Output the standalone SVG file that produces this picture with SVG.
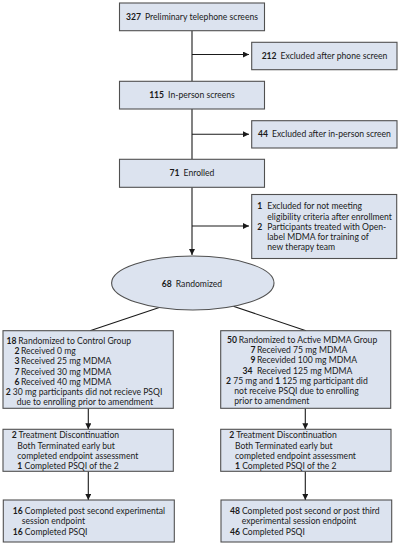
<svg xmlns="http://www.w3.org/2000/svg" width="400" height="545" viewBox="0 0 400 545">
<style>
.box{fill:#dce3ef;stroke:#505050;stroke-width:1.1}
.t{font-family:Lato,"Liberation Sans",sans-serif;font-size:8.6px;fill:#1a1a1a}
.c{text-anchor:middle}
.b{font-weight:bold}
.ln{stroke:#1a1a1a;stroke-width:1.1;fill:none}
</style>
<defs>
<marker id="ah" markerWidth="6" markerHeight="6" refX="6" refY="3" orient="auto" markerUnits="userSpaceOnUse">
<path d="M0,0 L6,3 L0,6 z" fill="#1a1a1a"/>
</marker>
</defs>
<g id="connectors">
<line class="ln" x1="192" y1="30.7" x2="192" y2="81.3"/>
<line class="ln" x1="192" y1="109" x2="192" y2="159.3"/>
<line class="ln" x1="192" y1="187.3" x2="192" y2="255" marker-end="url(#ah)"/>
<line class="ln" x1="192" y1="54.5" x2="249" y2="54.5" marker-end="url(#ah)"/>
<line class="ln" x1="192" y1="134.2" x2="249" y2="134.2" marker-end="url(#ah)"/>
<line class="ln" x1="192" y1="226" x2="249" y2="226" marker-end="url(#ah)"/>
<line class="ln" x1="160" y1="307.3" x2="90" y2="330.7"/>
<line class="ln" x1="233.3" y1="306.3" x2="306" y2="330.7"/>
<line class="ln" x1="88.3" y1="408.3" x2="88.3" y2="429.3" marker-end="url(#ah)"/>
<line class="ln" x1="88.3" y1="471.3" x2="88.3" y2="500" marker-end="url(#ah)"/>
<line class="ln" x1="305.3" y1="408.3" x2="305.3" y2="429.3" marker-end="url(#ah)"/>
<line class="ln" x1="305.3" y1="471.3" x2="305.3" y2="500" marker-end="url(#ah)"/>
</g>
<g id="n327">
<rect class="box" x="119.5" y="3" width="145" height="27.7"/>
<text class="t c" x="192" y="20"><tspan class="b">327</tspan><tspan dx="4">Preliminary telephone screens</tspan></text>
</g>
<g id="n212">
<rect class="box" x="251.7" y="42.3" width="145.3" height="27.4"/>
<text class="t c" x="324.5" y="59"><tspan class="b">212</tspan><tspan dx="4">Excluded after phone screen</tspan></text>
</g>
<g id="n115">
<rect class="box" x="119.5" y="81.3" width="145" height="27.7"/>
<text class="t c" x="192" y="98"><tspan class="b">115</tspan><tspan dx="4">In-person screens</tspan></text>
</g>
<g id="n44">
<rect class="box" x="251.7" y="120.7" width="145.3" height="27.3"/>
<text class="t c" x="324.5" y="137.3"><tspan class="b">44</tspan><tspan dx="4">Excluded after in-person screen</tspan></text>
</g>
<g id="n71">
<rect class="box" x="119.5" y="159.3" width="145" height="28"/>
<text class="t c" x="192" y="176.3"><tspan class="b">71</tspan><tspan dx="4">Enrolled</tspan></text>
</g>
<g id="nexcl">
<rect class="box" x="251.7" y="194.5" width="145" height="64"/>
<text class="t" x="257.3" y="209"><tspan class="b">1</tspan></text>
<text class="t" x="267.3" y="209">Excluded for not meeting</text>
<text class="t" x="267.3" y="219.5">eligibility criteria after enrollment</text>
<text class="t" x="257.3" y="229.8"><tspan class="b">2</tspan></text>
<text class="t" x="267.3" y="229.8">Participants treated with Open-</text>
<text class="t" x="267.3" y="240.1">label MDMA for training of</text>
<text class="t" x="267.3" y="250.3">new therapy team</text>
</g>
<g id="n68">
<ellipse class="box" cx="192.8" cy="283" rx="81.2" ry="27"/>
<text class="t c" x="192" y="287"><tspan class="b">68</tspan><tspan dx="4">Randomized</tspan></text>
</g>
<g id="nctrl">
<rect class="box" x="3" y="330.7" width="170.3" height="77.6"/>
<text class="t" x="6.5" y="343.6"><tspan class="b">18</tspan></text>
<text class="t" x="18.3" y="343.6">Randomized to Control Group</text>
<text class="t" x="14.5" y="353.9"><tspan class="b">2</tspan></text>
<text class="t" x="20.9" y="353.9">Received 0 mg</text>
<text class="t" x="14.5" y="364.2"><tspan class="b">3</tspan></text>
<text class="t" x="20.9" y="364.2">Received 25 mg MDMA</text>
<text class="t" x="14.5" y="374.5"><tspan class="b">7</tspan></text>
<text class="t" x="20.9" y="374.5">Received 30 mg MDMA</text>
<text class="t" x="14.5" y="384.8"><tspan class="b">6</tspan></text>
<text class="t" x="20.9" y="384.8">Received 40 mg MDMA</text>
<text class="t" x="5.7" y="395"><tspan class="b">2</tspan> 30 mg participants did not recieve PSQI</text>
<text class="t" x="16.7" y="405.2">due to enrolling prior to amendment</text>
</g>
<g id="nactive">
<rect class="box" x="220.7" y="330.7" width="170" height="77.6"/>
<text class="t" x="227" y="343"><tspan class="b">50</tspan></text>
<text class="t" x="238.8" y="343">Randomized to Active MDMA Group</text>
<text class="t" x="250.5" y="353.2"><tspan class="b">7</tspan></text>
<text class="t" x="256.9" y="353.2">Received 75 mg MDMA</text>
<text class="t" x="250.5" y="363.4"><tspan class="b">9</tspan></text>
<text class="t" x="256.9" y="363.4">Recevided 100 mg MDMA</text>
<text class="t" x="242.5" y="373.7"><tspan class="b">34</tspan></text>
<text class="t" x="256.9" y="373.7">Received 125 mg MDMA</text>
<text class="t" x="226" y="384"><tspan class="b">2</tspan> 75 mg and <tspan class="b">1</tspan> 125 mg participant did</text>
<text class="t" x="234.3" y="394.2">not receive PSQI due to enrolling</text>
<text class="t" x="234.3" y="404.3">prior to amendment</text>
</g>
<g id="nctrl2">
<rect class="box" x="3" y="429.3" width="170.3" height="42"/>
<text class="t" x="11.7" y="438.2"><tspan class="b">2</tspan> Treatment Discontinuation</text>
<text class="t" x="17.3" y="448.7">Both Terminated early but</text>
<text class="t" x="17.3" y="459">completed endpoint assessment</text>
<text class="t" x="17.3" y="469.3"><tspan class="b">1</tspan> Completed PSQI of the 2</text>
</g>
<g id="nactive2">
<rect class="box" x="220.7" y="429.3" width="170.3" height="42"/>
<text class="t" x="229.3" y="438.2"><tspan class="b">2</tspan> Treatment Discontinuation</text>
<text class="t" x="235" y="448.7">Both Terminated early but</text>
<text class="t" x="235" y="459">completed endpoint assessment</text>
<text class="t" x="235" y="469.3"><tspan class="b">1</tspan> Completed PSQI of the 2</text>
</g>
<g id="nctrl3">
<rect class="box" x="3.3" y="500" width="171" height="42"/>
<text class="t" x="12.7" y="513.7"><tspan class="b">16</tspan> Completed post second experimental</text>
<text class="t" x="21.7" y="524">session endpoint</text>
<text class="t" x="12.7" y="534.5"><tspan class="b">16</tspan> Completed PSQI</text>
</g>
<g id="nactive3">
<rect class="box" x="221" y="500" width="170.7" height="42"/>
<text class="t" x="230" y="513.7"><tspan class="b">48</tspan><tspan dx="2">Completed post second or post third</tspan></text>
<text class="t" x="241.7" y="524">experimental session endpoint</text>
<text class="t" x="230" y="534.5"><tspan class="b">46</tspan> Completed PSQI</text>
</g>
</svg>
